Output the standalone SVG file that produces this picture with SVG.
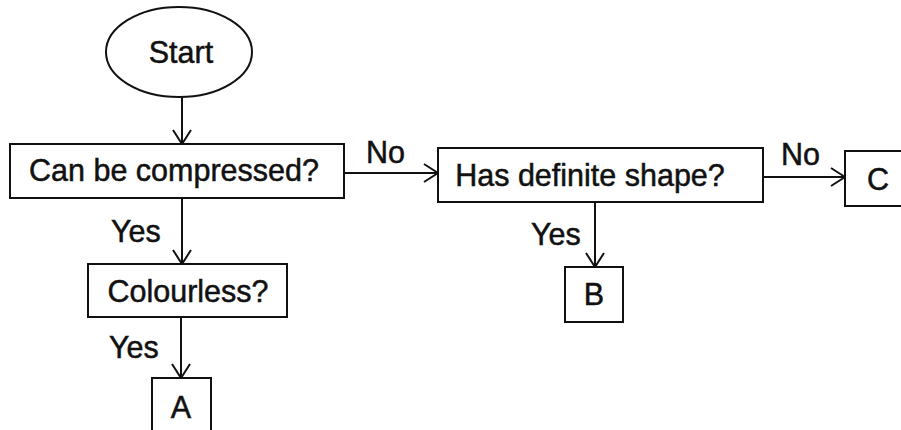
<svg xmlns="http://www.w3.org/2000/svg" width="901" height="430" viewBox="0 0 901 430">
<style>
.box{fill:#fff;stroke:#111;stroke-width:2}
.t{font-family:"Liberation Sans",Arial,sans-serif;font-size:30.5px;fill:#111;stroke:#111;stroke-width:0.5}
.c{text-anchor:middle}
.ln{fill:none;stroke:#111;stroke-width:2}
</style>
<defs>
<marker id="arr" markerWidth="16" markerHeight="20" refX="15" refY="10" orient="auto" markerUnits="userSpaceOnUse">
<path d="M1,1 L15,10 L1,19" fill="none" stroke="#111" stroke-width="2"/>
</marker>
</defs>
<rect width="901" height="430" fill="#fff"/>
<g id="connectors">
<line class="ln" x1="182" y1="97" x2="182" y2="144" marker-end="url(#arr)"/>
<line class="ln" x1="344" y1="173" x2="438" y2="173" marker-end="url(#arr)"/>
<line class="ln" x1="763" y1="177" x2="845" y2="177" marker-end="url(#arr)"/>
<line class="ln" x1="595" y1="202" x2="595" y2="267" marker-end="url(#arr)"/>
<line class="ln" x1="182" y1="198" x2="182" y2="264" marker-end="url(#arr)"/>
<line class="ln" x1="181" y1="317" x2="181" y2="378" marker-end="url(#arr)"/>
<text class="t" x="366" y="163">No</text>
<text class="t" x="781" y="165">No</text>
<text class="t" x="531" y="245">Yes</text>
<text class="t" x="111" y="242">Yes</text>
<text class="t" x="109" y="358">Yes</text>
</g>
<g id="start">
<ellipse class="box" cx="179" cy="52" rx="73" ry="45"/>
<text class="t c" x="181" y="63">Start</text>
</g>
<g id="compressed">
<rect class="box" x="10" y="144" width="334" height="54"/>
<text class="t c" x="174" y="181">Can be compressed?</text>
</g>
<g id="shape">
<rect class="box" x="438" y="148" width="325" height="54"/>
<text class="t c" x="590" y="186">Has definite shape?</text>
</g>
<g id="C">
<rect class="box" x="845" y="151" width="70" height="55"/>
<text class="t c" x="878" y="190">C</text>
</g>
<g id="B">
<rect class="box" x="565" y="267" width="58" height="55"/>
<text class="t c" x="594" y="305">B</text>
</g>
<g id="colourless">
<rect class="box" x="88" y="264" width="199" height="53"/>
<text class="t c" x="188" y="302">Colourless?</text>
</g>
<g id="A">
<rect class="box" x="152" y="378" width="59" height="60"/>
<text class="t c" x="181" y="418">A</text>
</g>
</svg>
